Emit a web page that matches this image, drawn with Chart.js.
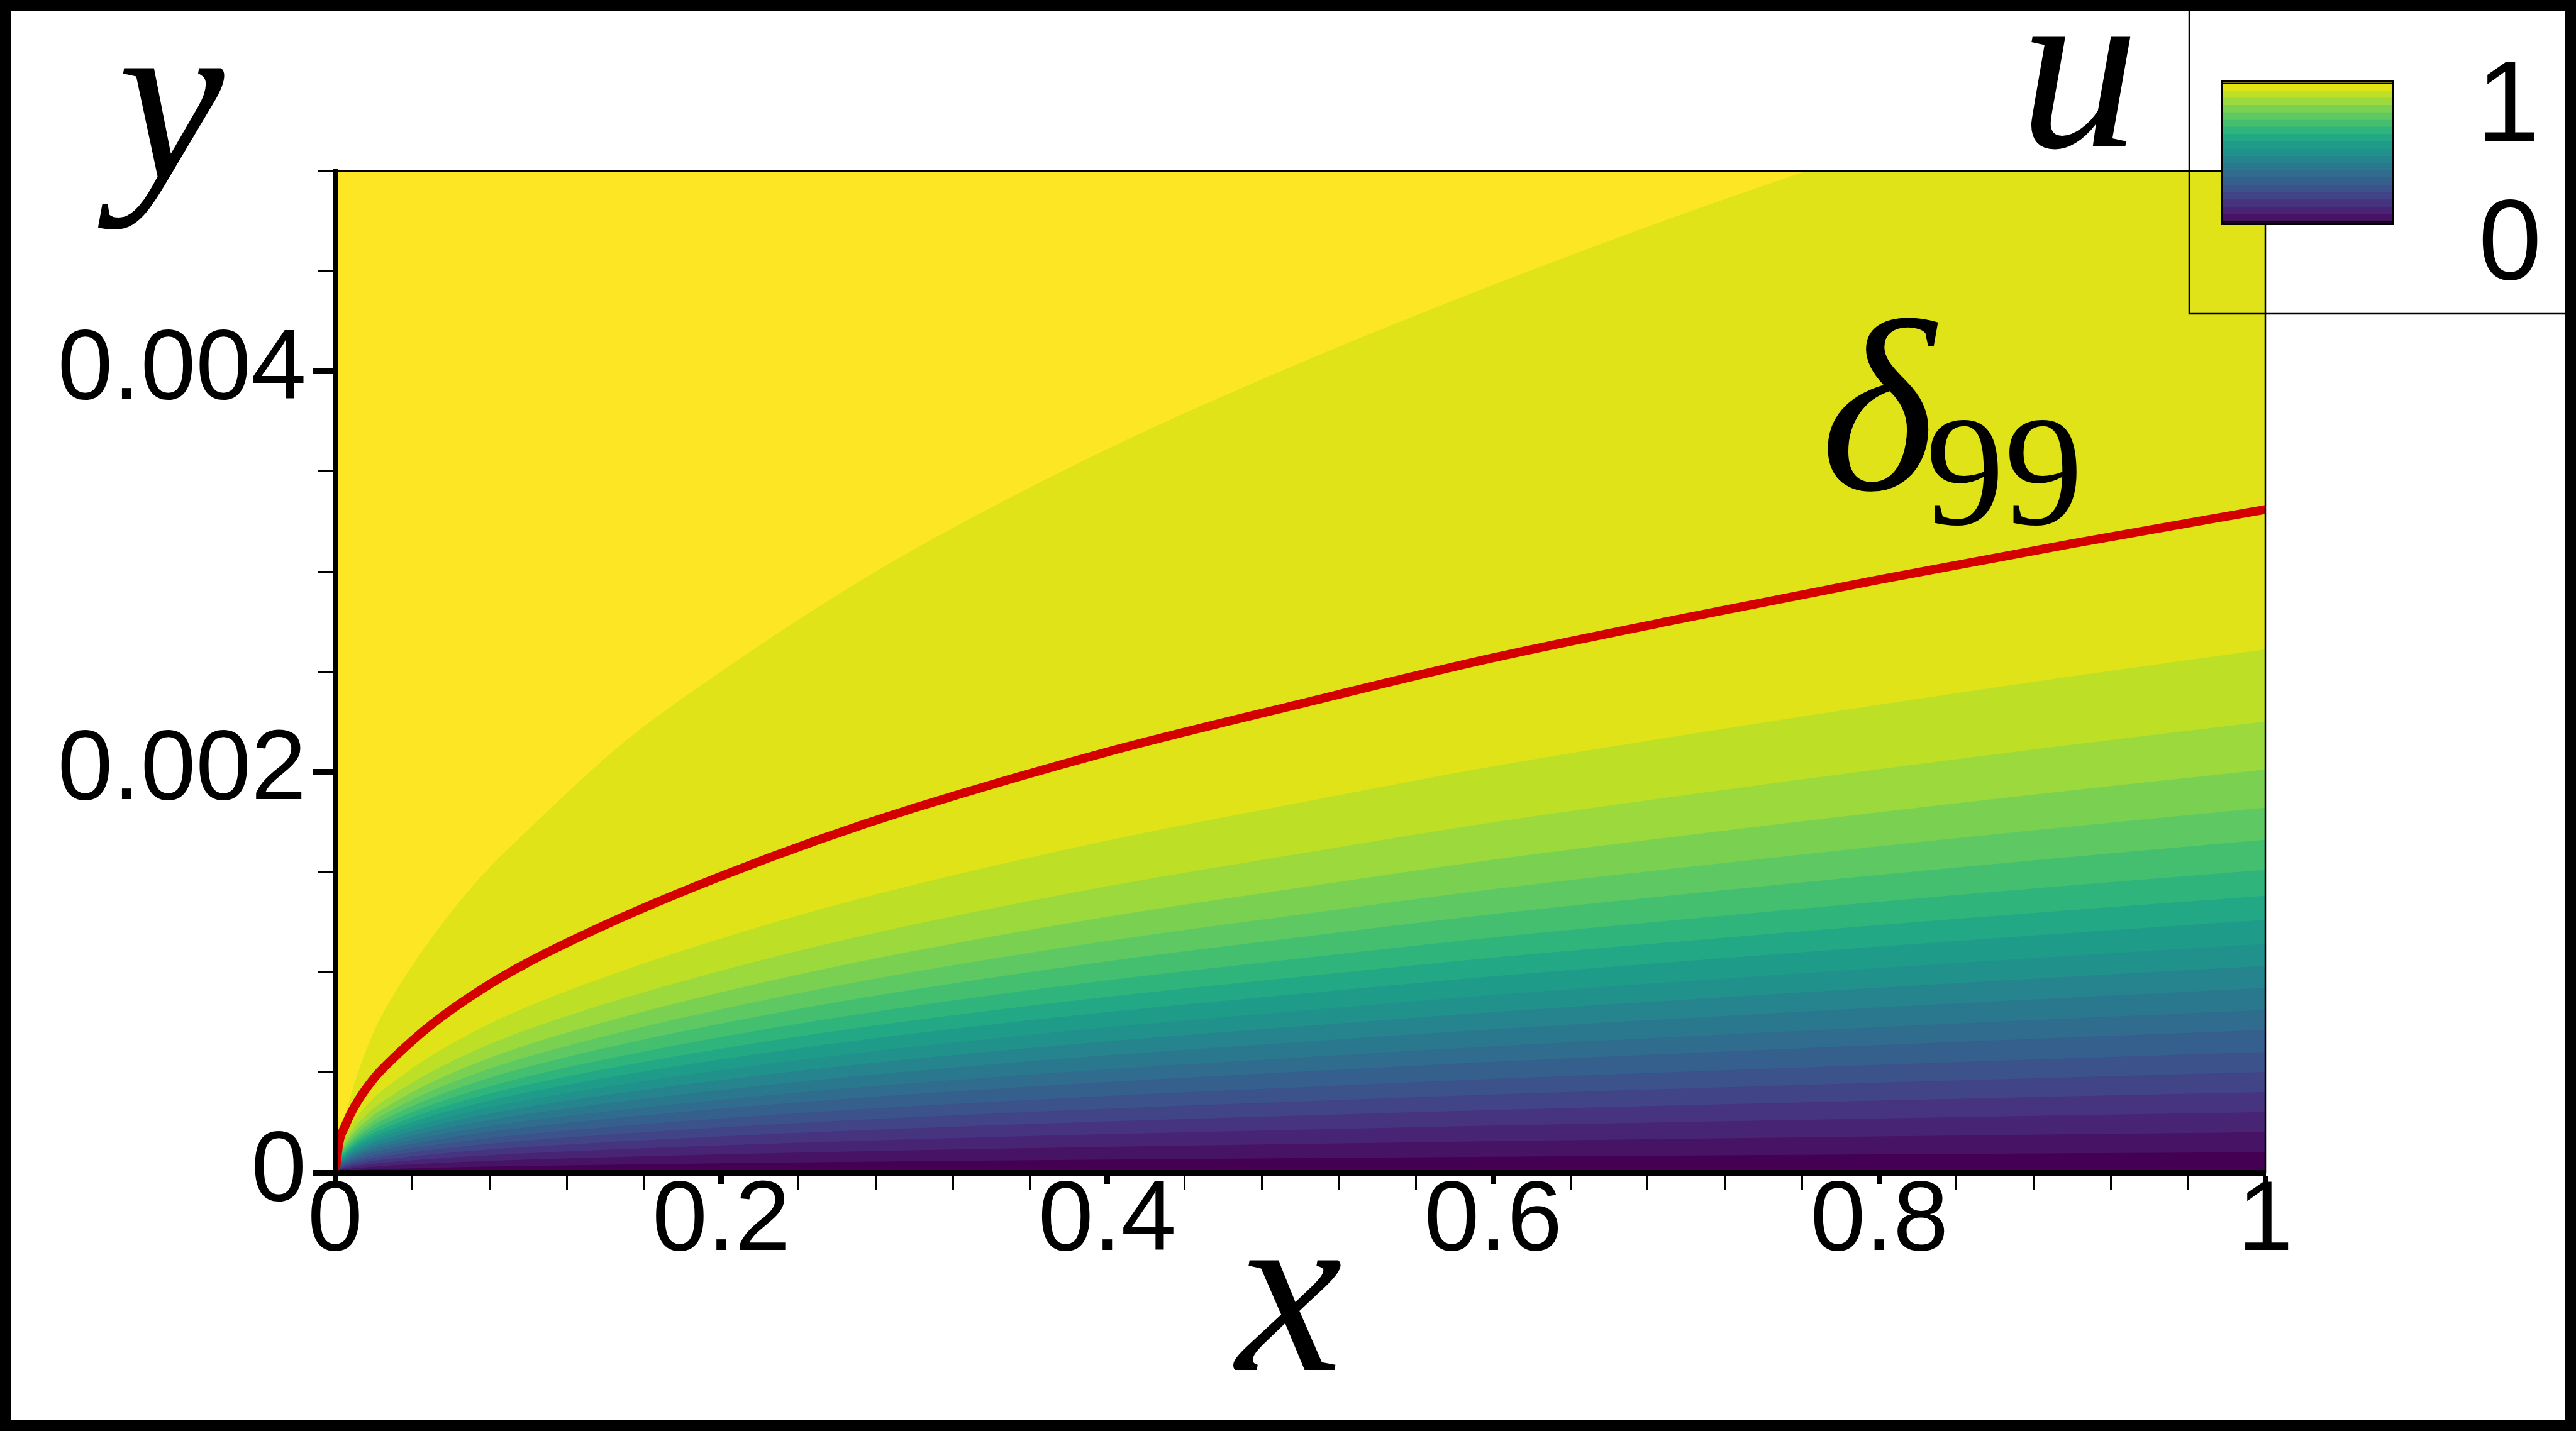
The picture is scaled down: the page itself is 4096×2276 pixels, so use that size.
<!DOCTYPE html>
<html>
<head>
<meta charset="utf-8">
<title>Boundary layer u</title>
<script src="https://cdn.jsdelivr.net/npm/chart.js@4.4.1/dist/chart.umd.min.js"></script>
<style>
    html, body { margin: 0; padding: 0; background: #fff; }
    #wrap { position: relative; width: 4096px; height: 2276px; overflow: hidden; }
    #uChart { position: absolute; left: 0; top: 0; }
    #colorBar { position: absolute; left: 3532px; top: 127px; }
    #frame { position: absolute; left: 0; top: 0; width: 4096px; height: 2276px;
             box-sizing: border-box; border: 18px solid #000; pointer-events: none; }
</style>
</head>
<body>
<div id="wrap">
    <canvas id="uChart" width="4096" height="2276"></canvas>
    <canvas id="colorBar" width="274" height="231"></canvas>
    <div id="frame"></div>
</div>
<script>
const xs = [0, 0.002, 0.005, 0.01, 0.02, 0.03, 0.05, 0.075, 0.1, 0.15, 0.2, 0.25, 0.3, 0.4, 0.5, 0.6, 0.7, 0.8, 0.9, 1];
// red delta_99 line
const delta99 = [0, 0.00015, 0.00023, 0.00033, 0.00047, 0.00057, 0.00074, 0.00091, 0.00105, 0.00128, 0.00148,
                 0.00166, 0.00182, 0.0021, 0.00234, 0.00257, 0.00277, 0.00296, 0.00314, 0.00331];
// lower edge of the u = 1 (free stream) region
const freestreamEdge = [0, 0.00017, 0.00027, 0.00044, 0.0007, 0.00088, 0.00117, 0.00147, 0.00171, 0.00215, 0.0025,
                        0.00282, 0.00311, 0.00361, 0.00404, 0.00443, 0.00479, 0.00512, 0.00543, 0.00573];
// contour levels and the height of each level at x = 1
const uLevels = [0.05, 0.1, 0.15, 0.2, 0.25, 0.3, 0.35, 0.4, 0.45, 0.5, 0.55, 0.6, 0.65, 0.7, 0.75, 0.8, 0.85, 0.9, 0.95];
const edgeAtX1 = [0.0001, 0.0002, 0.0003, 0.0004, 0.0005, 0.0006, 0.00071, 0.00081, 0.00092, 0.00103,
                  0.00114, 0.00126, 0.00138, 0.00151, 0.00166, 0.00182, 0.00201, 0.00225, 0.00261];
// band colours, from u < 0.05 up to u >= 1
const bandColors = ['#440154', '#471365', '#482475', '#463480', '#414487', '#3b528b', '#355f8d', '#2f6c8e',
                    '#2a788e', '#25848e', '#21918c', '#1e9c89', '#22a884', '#2fb47c', '#44bf70', '#5ec962',
                    '#7ad151', '#9bd93c', '#bddf26', '#dfe318', '#fde725'];

const xMajorTicks = [0, 0.2, 0.4, 0.6, 0.8, 1];
const xTickLabels = ['0', '0.2', '0.4', '0.6', '0.8', '1'];
const xMinorTicks = [0.04, 0.08, 0.12, 0.16, 0.24, 0.28, 0.32, 0.36, 0.44, 0.48, 0.52, 0.56,
                     0.64, 0.68, 0.72, 0.76, 0.84, 0.88, 0.92, 0.96];
const yMajorTicks = [0, 0.002, 0.004];
const yTickLabels = ['0', '0.002', '0.004'];
const yMinorTicks = [0.0005, 0.001, 0.0015, 0.0025, 0.003, 0.0035, 0.0045, 0.005];
const barLabels = ['1', '0'];

const RED = '#d40000';
const SERIF = '"Liberation Serif", "DejaVu Serif", "Noto Serif", serif';
const last = xs.length - 1;

// contour edges share the shape of the delta_99 line
function edgePoints(hAtX1) {
    return xs.map((x, i) => ({ x: x, y: hAtX1 * delta99[i] / delta99[last] }));
}

function fillSet(label, data, color) {
    return {
        label: label,
        data: data,
        xAxisID: 'x',
        yAxisID: 'y',
        fill: 'origin',
        backgroundColor: color,
        borderColor: color,
        borderWidth: 1,
        pointRadius: 0,
        cubicInterpolationMode: 'monotone',
        clip: 0
    };
}

function buildDatasets() {
    const sets = [{
        label: 'delta99',
        data: xs.map((x, i) => ({ x: x, y: delta99[i] })),
        xAxisID: 'x',
        yAxisID: 'y',
        fill: false,
        borderColor: RED,
        borderWidth: 14,
        borderCapStyle: 'butt',
        pointRadius: 0,
        cubicInterpolationMode: 'monotone',
        clip: 0
    }];
    edgeAtX1.forEach((h, i) => sets.push(fillSet('u = ' + uLevels[i], edgePoints(h), bandColors[i])));
    sets.push(fillSet('u = 1', xs.map((x, i) => ({ x: x, y: freestreamEdge[i] })), bandColors[19]));
    return sets;
}

const tickFont = { family: 'Liberation Sans', size: 158 };

// background, frame, titles
const plotDecor = {
    id: 'plotDecor',
    beforeDatasetsDraw(chart) {
        const { ctx, chartArea: a } = chart;
        ctx.save();
        ctx.fillStyle = bandColors[bandColors.length - 1];
        ctx.fillRect(a.left, a.top, a.right - a.left, a.bottom - a.top);
        ctx.restore();
    },
    afterDraw(chart) {
        const { ctx, chartArea: a } = chart;
        ctx.save();
        ctx.strokeStyle = '#000';
        ctx.lineWidth = 2.5;
        ctx.beginPath();
        ctx.moveTo(a.left, a.top);
        ctx.lineTo(a.right, a.top);
        ctx.lineTo(a.right, a.bottom);
        ctx.moveTo(3481, 0);
        ctx.lineTo(3481, 499);
        ctx.lineTo(4096, 499);
        ctx.stroke();

        ctx.fillStyle = '#000';
        ctx.textBaseline = 'alphabetic';
        ctx.textAlign = 'center';
        ctx.font = 'italic 380px ' + SERIF;
        ctx.fillText('y', 272, 283);
        ctx.fillText('x', 2050, 2179);
        ctx.fillText('u', 3306, 233);

        ctx.textAlign = 'left';
        ctx.font = 'italic 390px ' + SERIF;
        ctx.fillText('δ', 2895, 778);
        ctx.font = '250px ' + SERIF;
        ctx.fillText('99', 3062, 834);

        ctx.textAlign = 'center';
        ctx.font = '181px "Liberation Sans"';
        ctx.fillText(barLabels[0], 3988, 224);
        ctx.fillText(barLabels[1], 3991, 444);
        ctx.restore();
    }
};

// colour bar legend: thin end bands, full bands in between
const barOutline = {
    id: 'barOutline',
    afterDraw(chart) {
        const { ctx, chartArea: a, scales } = chart;
        ctx.save();
        ctx.strokeStyle = '#000';
        ctx.lineWidth = 3;
        ctx.strokeRect(a.left + 1.5, a.top + 1.5, a.right - a.left - 3, a.bottom - a.top - 3);
        ctx.lineWidth = 2.5;
        [0.5, bandColors.length - 1.5].forEach(v => {
            const py = scales.y.getPixelForValue(v);
            ctx.beginPath();
            ctx.moveTo(a.left, py);
            ctx.lineTo(a.right, py);
            ctx.stroke();
        });
        ctx.restore();
    }
};

function drawCharts() {
    new Chart(document.getElementById('uChart'), {
        type: 'line',
        data: { datasets: buildDatasets() },
        options: {
            responsive: false,
            animation: false,
            devicePixelRatio: 1,
            events: [],
            layout: { padding: { left: 20, top: 272, right: 494, bottom: 11 } },
            plugins: { legend: { display: false }, tooltip: { enabled: false } },
            scales: {
                x: {
                    type: 'linear', axis: 'x', position: 'bottom', min: 0, max: 1, weight: 1,
                    afterBuildTicks: s => { s.ticks = xMajorTicks.map(v => ({ value: v })); },
                    afterFit: s => { s.height = 400; },
                    ticks: {
                        autoSkip: false, maxRotation: 0, color: '#000', padding: 22,
                        font: { ...tickFont, lineHeight: 0.5 },
                        callback: (v, i) => xTickLabels[i]
                    },
                    grid: { drawOnChartArea: false, tickLength: 18, tickWidth: 9, tickColor: '#000' },
                    border: { display: true, color: '#000', width: 9, z: 1 }
                },
                xMinor: {
                    type: 'linear', axis: 'x', position: 'bottom', min: 0, max: 1, weight: 0,
                    afterBuildTicks: s => { s.ticks = xMinorTicks.map(v => ({ value: v })); },
                    afterFit: s => { s.height = 0; },
                    ticks: { display: false },
                    grid: { drawOnChartArea: false, tickLength: 27, tickWidth: 3, tickColor: '#000' },
                    border: { display: false }
                },
                y: {
                    type: 'linear', axis: 'y', position: 'left', min: 0, max: 0.005, weight: 1,
                    afterBuildTicks: s => { s.ticks = yMajorTicks.map(v => ({ value: v })); },
                    afterFit: s => { s.width = 513; },
                    ticks: {
                        color: '#000', padding: 10,
                        font: { ...tickFont, lineHeight: 1 },
                        callback: (v, i) => yTickLabels[i]
                    },
                    grid: { drawOnChartArea: false, tickLength: 36, tickWidth: 9, tickColor: '#000' },
                    border: { display: true, color: '#000', width: 9, z: 1 }
                },
                yMinor: {
                    type: 'linear', axis: 'y', position: 'left', min: 0, max: 0.005, weight: 0,
                    afterBuildTicks: s => { s.ticks = yMinorTicks.map(v => ({ value: v })); },
                    afterFit: s => { s.width = 0; },
                    ticks: { display: false },
                    grid: { drawOnChartArea: false, tickLength: 27, tickWidth: 3, tickColor: '#000' },
                    border: { display: false }
                }
            }
        },
        plugins: [plotDecor]
    });

    new Chart(document.getElementById('colorBar'), {
        type: 'bar',
        data: {
            labels: ['u'],
            datasets: bandColors.map((c, i) => ({
                data: [(i === 0 || i === bandColors.length - 1) ? 0.5 : 1],
                backgroundColor: c,
                borderWidth: 0,
                barPercentage: 1,
                categoryPercentage: 1
            }))
        },
        options: {
            responsive: false,
            animation: false,
            devicePixelRatio: 1,
            events: [],
            layout: { padding: 0 },
            plugins: { legend: { display: false }, tooltip: { enabled: false } },
            scales: {
                x: { display: false, stacked: true },
                y: { display: false, stacked: true, min: 0, max: bandColors.length - 1 }
            }
        },
        plugins: [barOutline]
    });
}

const fontsToLoad = ['italic 380px "Liberation Serif"', '250px "Liberation Serif"', '158px "Liberation Sans"'];
Promise.all(fontsToLoad.map(f => document.fonts.load(f).catch(() => null))).then(drawCharts, drawCharts);
</script>
</body>
</html>
